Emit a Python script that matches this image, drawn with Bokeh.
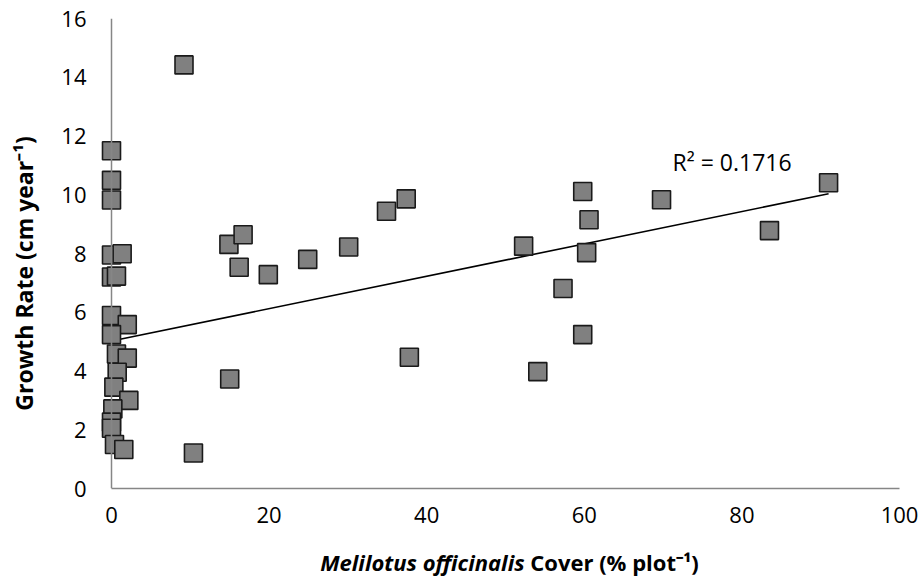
import numpy as np
from bokeh.plotting import figure
from bokeh.layouts import column
from bokeh.models import Label, Range1d, FixedTicker, ColumnDataSource, Span, Div
from bokeh.embed import file_html
from bokeh.resources import INLINE

# Data
cover = [9.2, 0.0, 0.0, 0.0, 0.0, 1.35, 0.0, 0.63, 14.9, 16.7, 16.2, 19.9, 24.9, 30.1,
         0.0, 2.0, 0.0, 0.63, 2.0, 0.72, 0.3, 2.2, 0.17, 0.0, 0.0, 0.38, 1.56, 10.4, 15.0,
         34.9, 37.4, 52.3, 59.8, 60.6, 60.3, 57.3, 59.8, 37.8, 54.1, 69.8, 83.5, 91.0]
growth = [14.42, 11.5, 10.49, 9.82, 7.95, 7.99, 7.2, 7.23, 8.31, 8.64, 7.53, 7.28, 7.80, 8.22,
          5.89, 5.58, 5.24, 4.58, 4.44, 3.96, 3.45, 3.0, 2.71, 2.26, 2.05, 1.50, 1.33, 1.21, 3.73,
          9.44, 9.86, 8.25, 10.11, 9.15, 8.03, 6.81, 5.24, 4.47, 3.98, 9.83, 8.78, 10.41]
x_ticks = [0, 20, 40, 60, 80, 100]
y_ticks = [0, 2, 4, 6, 8, 10, 12, 14, 16]
r2_text = "R² = 0.1716"
x_title_species = "Melilotus officinalis"
x_title_rest = "Cover (% plot⁻¹)"
y_title = "Growth Rate (cm year⁻¹)"
# linear trendline as drawn in the reference
trend_intercept = 5.02
trend_slope = 0.0551

FONT = "Open Sans"
AXIS_GREY = "#868686"

p = figure(width=920, height=546, output_backend="svg", toolbar_location=None,
           x_range=Range1d(-1.523, 100), y_range=Range1d(0, 16),
           min_border_left=99, min_border_right=21, min_border_top=18, min_border_bottom=58)
p.outline_line_color = None
p.xgrid.grid_line_color = None
p.ygrid.grid_line_color = None
p.background_fill_color = "white"
p.border_fill_color = "white"

for ax, ticks in ((p.xaxis[0], x_ticks), (p.yaxis[0], y_ticks)):
    ax.ticker = FixedTicker(ticks=ticks)
    ax.axis_line_color = AXIS_GREY
    ax.axis_line_width = 1.5
    ax.major_tick_line_color = None
    ax.minor_tick_line_color = None
    ax.major_tick_out = 0
    ax.major_tick_in = 0
    ax.major_label_text_font = FONT
    ax.major_label_text_font_size = "22px"
    ax.major_label_text_color = "#000000"
p.yaxis[0].axis_line_color = None
p.yaxis[0].major_label_standoff = 13
p.xaxis[0].bounds = (0, 100)
p.xaxis[0].major_label_standoff = 18
# vertical axis line at x = 0
p.add_layout(Span(location=0, dimension="height", line_color=AXIS_GREY, line_width=1.5))

xs = [min(cover), max(cover)]
p.line(xs, [trend_intercept + trend_slope * v for v in xs], line_color="black", line_width=1.6)

src = ColumnDataSource(dict(x=cover, y=growth))
p.scatter("x", "y", source=src, marker="square", size=18, fill_color="#808080",
          line_color="#1a1a1a", line_width=1.6)

p.add_layout(Label(x=71.2, y=11.13, text=r2_text, text_font=FONT, text_font_size="23px",
                   text_align="left", text_baseline="middle", text_color="#000000"))

# Y axis title (left side panel, not clipped to the frame)
p.add_layout(Label(x=23, y=273, x_units="canvas", y_units="canvas", angle=np.pi / 2,
                   text=y_title, text_font=FONT, text_font_size="23px",
                   text_font_style="bold", text_align="center", text_baseline="middle",
                   text_color="#000000"), "left")

# X axis title with mixed styles, as HTML under the plot
x_title_html = (
    '<div style="box-sizing:border-box; width:920px; padding-left:89px; text-align:center; '
    "white-space:nowrap; font-family:'Open Sans'; font-size:22px; font-weight:bold; "
    'line-height:22px; color:#000;">'
    f"<i>{x_title_species}</i> {x_title_rest}</div>"
)
x_title = Div(text=x_title_html, width=920, height=36)

layout = column(p, x_title, spacing=0)

open("out.html", "w").write(file_html(layout, INLINE))
